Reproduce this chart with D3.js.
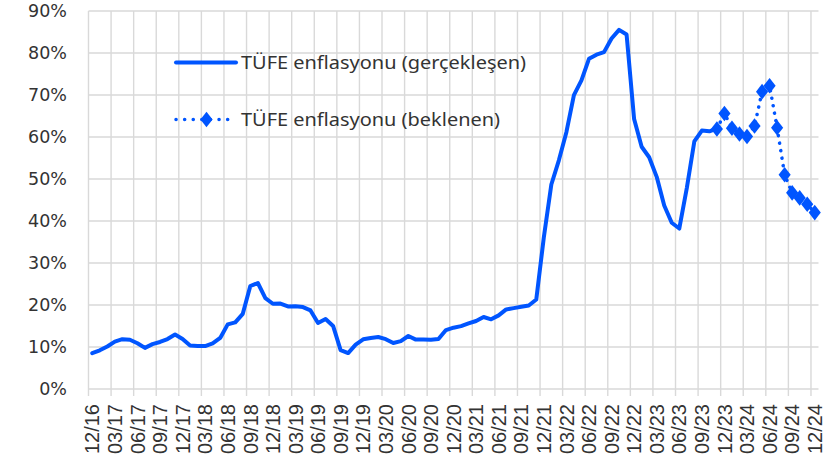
<!DOCTYPE html>
<html><head><meta charset="utf-8">
<script src="https://cdn.jsdelivr.net/npm/d3@7"></script>
<style>html,body{margin:0;padding:0;background:#fff;}svg{display:block;}</style>
</head><body><svg id="c" width="839" height="466"></svg>
<script>
// monthly categories 12/16 .. 12/24
const startMonth = "2016-12";
const endMonth = "2024-12";
// actual CPI inflation (%), 12/16 .. 11/23
const actualValues = [
 8.53,
 9.22,10.13,11.29,11.87,11.72,10.90,9.79,10.68,11.20,11.90,12.98,11.92,
 10.35,10.26,10.23,10.85,12.15,15.39,15.85,17.90,24.52,25.24,21.62,20.30,
 20.35,19.67,19.71,19.50,18.71,15.72,16.65,15.01,9.26,8.55,10.56,11.84,
 12.15,12.37,11.86,10.94,11.39,12.62,11.76,11.77,11.75,11.89,14.03,14.60,
 14.97,15.61,16.19,17.14,16.59,17.53,18.95,19.25,19.58,19.89,21.31,36.08,
 48.69,54.44,61.14,69.97,73.50,78.62,79.60,80.21,83.45,85.51,84.39,64.27,
 57.68,55.18,50.51,43.68,39.59,38.21,47.83,58.94,61.53,61.36,61.98
];
// expected CPI inflation (%), 11/23 .. 12/24
const expectedValues = [61.9,65.6,62.1,60.7,60.1,62.6,70.8,72.2,62.2,51.0,46.7,45.5,44.0,42.0];
const expectedStart = "2023-11";
const yTicks = [0,10,20,30,40,50,60,70,80,90];
const tickLabels = ["12/16","03/17","06/17","09/17","12/17","03/18","06/18","09/18","12/18",
 "03/19","06/19","09/19","12/19","03/20","06/20","09/20","12/20","03/21","06/21","09/21",
 "12/21","03/22","06/22","09/22","12/22","03/23","06/23","09/23","12/23","03/24","06/24","09/24","12/24"];
const legendLabels = ["TÜFE enflasyonu (gerçekleşen)","TÜFE enflasyonu (beklenen)"];

const parse = d3.timeParse("%Y-%m");
const months = d3.timeMonth.range(parse(startMonth), d3.timeMonth.offset(parse(endMonth),1));
const fmt = d3.timeFormat("%m/%y");
const cats = months.map(fmt);

const svg = d3.select("#c");
const pL = 88.5, pR = 818.5, pT = 11, pB = 389;
const blue = "#0055ff", grid = "#d9d9d9", textCol = "#333";

const x = d3.scaleBand().domain(cats).range([pL, pR]).paddingInner(0).paddingOuter(0);
const y = d3.scaleLinear().domain([0,90]).range([pB, pT]);
const cx = c => x(c) + x.bandwidth()/2;

// horizontal grid
svg.append("g").selectAll("line").data(yTicks).join("line")
  .attr("x1", pL).attr("x2", pR)
  .attr("y1", d => y(d)).attr("y2", d => y(d))
  .attr("stroke", grid).attr("stroke-width", 1.4);
// vertical grid at quarter boundaries
svg.append("g").selectAll("line").data(tickLabels).join("line")
  .attr("x1", d => x(d)).attr("x2", d => x(d))
  .attr("y1", pT).attr("y2", pB + 7)
  .attr("stroke", grid).attr("stroke-width", 1.4);

// y labels
svg.append("g").selectAll("text").data(yTicks).join("text")
  .attr("x", 67).attr("y", d => y(d)).attr("dy", "0.36em")
  .attr("text-anchor", "end").attr("font-family", "DejaVu Sans").attr("font-size", 17.5)
  .attr("fill", textCol).text(d => d + "%");

// x labels
svg.append("g").selectAll("text").data(tickLabels).join("text")
  .attr("transform", d => `translate(${cx(d)},404) rotate(-90)`)
  .attr("dy", "0.36em").attr("text-anchor", "end")
  .attr("font-family", "Liberation Sans").attr("font-size", 20)
  .attr("fill", textCol).text(d => d);

// actual line
const actual = actualValues.map((v,i) => ({c: cats[i], v}));
const line = d3.line().x(d => cx(d.c)).y(d => y(d.v));
svg.append("path").datum(actual).attr("d", line)
  .attr("fill", "none").attr("stroke", blue).attr("stroke-width", 4)
  .attr("stroke-linejoin", "round").attr("stroke-linecap", "round");

// expected line
const eStart = cats.indexOf(fmt(parse(expectedStart)));
const expected = expectedValues.map((v,i) => ({c: cats[eStart+i], v}));
svg.append("path").datum(expected).attr("d", line)
  .attr("fill", "none").attr("stroke", blue).attr("stroke-width", 3.5)
  .attr("stroke-dasharray", "0.1 7.5").attr("stroke-linecap", "round");
const diamond = d3.symbol().type(d3.symbolDiamond).size(70);
svg.append("g").selectAll("path").data(expected).join("path")
  .attr("transform", d => `translate(${cx(d.c)},${y(d.v)}) scale(1.35,1)`)
  .attr("d", diamond).attr("fill", blue);

// legend
const lg = svg.append("g");
lg.append("line").attr("x1", 176).attr("x2", 236).attr("y1", 62.5).attr("y2", 62.5)
  .attr("stroke", blue).attr("stroke-width", 4).attr("stroke-linecap", "round");
lg.append("line").attr("x1", 176).attr("x2", 236).attr("y1", 119.5).attr("y2", 119.5)
  .attr("stroke", blue).attr("stroke-width", 3.5).attr("stroke-dasharray", "0.1 8.5").attr("stroke-linecap", "round");
lg.append("path").attr("transform", "translate(206.5,119.5) scale(1.35,1)").attr("d", diamond).attr("fill", blue);
const legendWidths = [285, 259];
lg.selectAll("text").data(legendLabels).join("text")
  .attr("x", 241).attr("y", (d,i) => i ? 119.5 : 62.5).attr("dy", "0.36em")
  .attr("font-family", "Noto Sans").attr("font-size", 18)
  .attr("textLength", (d,i) => legendWidths[i]).attr("lengthAdjust", "spacingAndGlyphs")
  .attr("fill", textCol)
  .text(d => d);
</script></body></html>
